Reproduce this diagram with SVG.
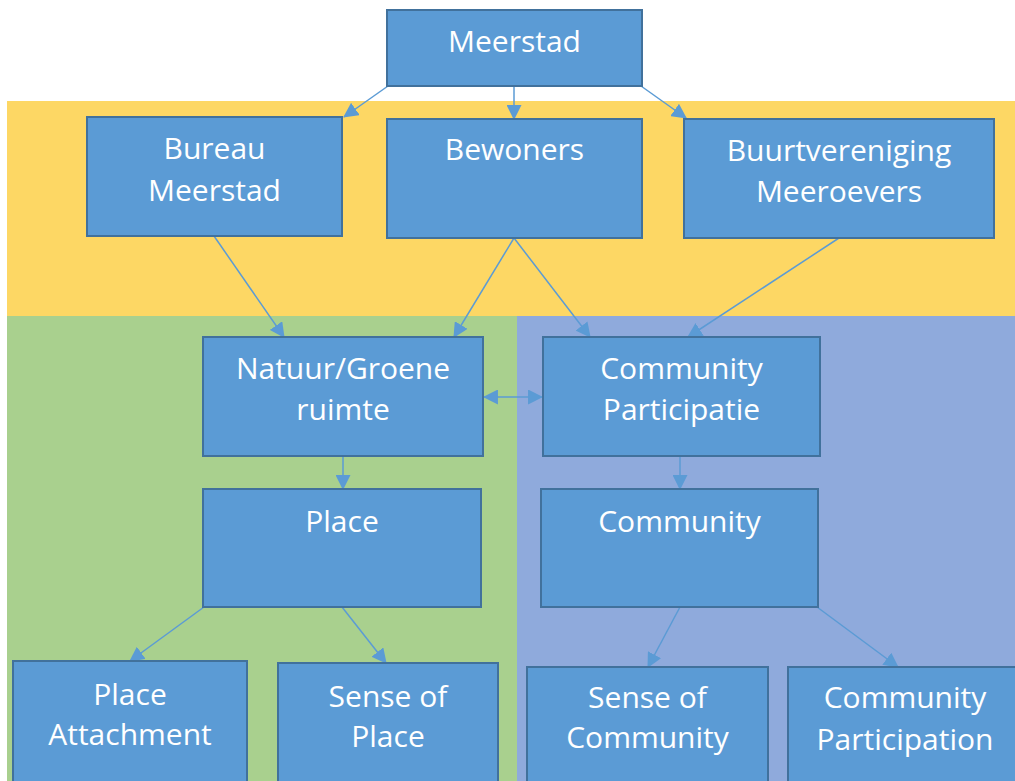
<svg xmlns="http://www.w3.org/2000/svg" width="1015" height="781" viewBox="0 0 1015 781">
<style>
.node rect{fill:#5B9BD5;stroke:#41719C;stroke-width:2}
.node text{fill:#FFFFFF;font-family:"Open Sans","Liberation Sans",sans-serif;font-size:30px;text-anchor:middle}
.conn line{stroke:#5B9BD5;stroke-width:1.5;fill:none}
</style>
<defs>
<marker id="ah" markerUnits="userSpaceOnUse" markerWidth="15" markerHeight="15" viewBox="0 0 14 14" refX="13" refY="7" orient="auto-start-reverse">
<path d="M0,0 L14,7 L0,14 Z" fill="#5B9BD5"/>
</marker>
</defs>
<rect x="0" y="0" width="1015" height="781" fill="#FFFFFF"/>
<g id="bands">
<rect x="7" y="101" width="1008" height="215" fill="#FDD764"/>
<rect x="7" y="316" width="510" height="465" fill="#A9D08E"/>
<rect x="517" y="316" width="498" height="465" fill="#8FAADC"/>
</g>
<g class="conn" id="connectors">
<line x1="388" y1="86" x2="344" y2="117" marker-end="url(#ah)"/>
<line x1="514" y1="86" x2="514" y2="119" marker-end="url(#ah)"/>
<line x1="641" y1="86" x2="686" y2="118" marker-end="url(#ah)"/>
<line x1="214" y1="236" x2="284" y2="337" marker-end="url(#ah)"/>
<line x1="514" y1="238" x2="454" y2="337" marker-end="url(#ah)"/>
<line x1="514" y1="238" x2="590" y2="337" marker-end="url(#ah)"/>
<line x1="839" y1="238" x2="688" y2="337" marker-end="url(#ah)"/>
<line x1="484" y1="397" x2="542" y2="397" marker-start="url(#ah)" marker-end="url(#ah)"/>
<line x1="343" y1="456" x2="343" y2="489" marker-end="url(#ah)"/>
<line x1="680" y1="456" x2="680" y2="489" marker-end="url(#ah)"/>
<line x1="204" y1="607" x2="130" y2="661" marker-end="url(#ah)"/>
<line x1="342" y1="607" x2="386" y2="663" marker-end="url(#ah)"/>
<line x1="680" y1="607" x2="648" y2="667" marker-end="url(#ah)"/>
<line x1="817" y1="607" x2="898" y2="667" marker-end="url(#ah)"/>
</g>
<g class="node" id="meerstad"><rect x="387" y="10" width="255" height="76"/><text x="514.5" y="52">Meerstad</text></g>
<g class="node" id="bureau"><rect x="87" y="117" width="255" height="119"/><text x="214.5" y="159">Bureau</text><text x="214.5" y="201">Meerstad</text></g>
<g class="node" id="bewoners"><rect x="387" y="119" width="255" height="119"/><text x="514.5" y="160">Bewoners</text></g>
<g class="node" id="buurt"><rect x="684" y="119" width="310" height="119"/><text x="839" y="161">Buurtvereniging</text><text x="839" y="202">Meeroevers</text></g>
<g class="node" id="natuur"><rect x="203" y="337" width="280" height="119"/><text x="343" y="379">Natuur/Groene</text><text x="343" y="420">ruimte</text></g>
<g class="node" id="cpart"><rect x="543" y="337" width="277" height="119"/><text x="681.5" y="379">Community</text><text x="681.5" y="420">Participatie</text></g>
<g class="node" id="place"><rect x="203" y="489" width="278" height="118"/><text x="342" y="532">Place</text></g>
<g class="node" id="community"><rect x="541" y="489" width="277" height="118"/><text x="679.5" y="532">Community</text></g>
<g class="node" id="pattach"><rect x="13" y="661" width="234" height="130"/><text x="130" y="705">Place</text><text x="130" y="745">Attachment</text></g>
<g class="node" id="splace"><rect x="278" y="663" width="220" height="130"/><text x="388" y="707">Sense of</text><text x="388" y="747">Place</text></g>
<g class="node" id="scomm"><rect x="527" y="667" width="241" height="130"/><text x="647.5" y="708">Sense of</text><text x="647.5" y="748">Community</text></g>
<g class="node" id="cparticipation"><rect x="788" y="667" width="240" height="130"/><text x="905" y="708">Community</text><text x="905" y="750">Participation</text></g>
</svg>
